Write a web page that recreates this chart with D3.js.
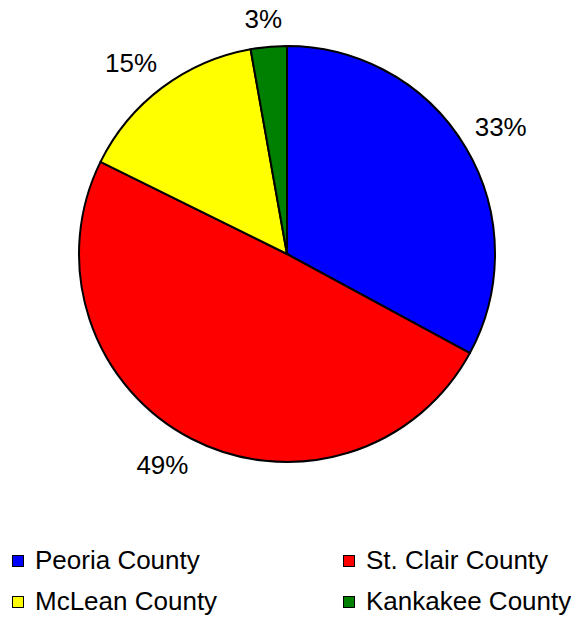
<!DOCTYPE html>
<html><head><meta charset="utf-8">
<script src="https://cdn.jsdelivr.net/npm/d3@7"></script>
<style>body{margin:0;background:#fff}svg{display:block}text{font-family:"Liberation Sans",Arial,sans-serif;fill:#000}</style>
</head><body>
<svg id="c" width="571" height="619"></svg>
<script>
const categories = ["Peoria County","St. Clair County","McLean County","Kankakee County"];
const values = [32.9, 49.4, 14.9, 2.8];
const labels = ["33%","49%","15%","3%"];
const colors = ["#0000ff","#ff0000","#ffff00","#008000"];

const svg = d3.select("#c");
const cx = 287, cy = 254, r = 208;
const data = categories.map((c,i)=>({c, v: values[i], l: labels[i], col: colors[i]}));
const pie = d3.pie().value(d=>d.v).sort(null);
const arcs = pie(data);
const arc = d3.arc().innerRadius(0).outerRadius(r);
const g = svg.append("g").attr("transform",`translate(${cx},${cy})`);
g.selectAll("path").data(arcs).join("path")
  .attr("d",arc).attr("fill",d=>d.data.col)
  .attr("stroke","#000").attr("stroke-width",2).attr("stroke-linejoin","round");

const R = 223, hh = 13;
g.selectAll("text").data(arcs).join("text")
  .attr("text-anchor","middle").attr("dominant-baseline","central")
  .style("font-size","26px").text(d=>d.data.l)
  .each(function(d){
    const hw = this.getBBox().width/2;
    const a = (d.startAngle+d.endAngle)/2;
    const s = Math.sin(a), c = Math.cos(a);
    const x = R*s + hw*Math.sign(s)*Math.min(0.85, 2.5*Math.abs(s));
    const y = -R*c - hh*Math.sign(c);
    d3.select(this).attr("x",x).attr("y",y);
  });

const leg = svg.append("g");
const pos = [[12,569],[343,569],[12,610],[343,610]];
data.forEach((d,i)=>{
  const [x,y] = pos[i];
  leg.append("rect").attr("x",x+0.5).attr("y",y-13.5).attr("width",11).attr("height",11)
    .attr("fill",d.col).attr("stroke","#000").attr("stroke-width",1);
  leg.append("text").attr("x",x+23).attr("y",y)
    .style("font-size","26px").text(d.c);
});
</script>
</body></html>
